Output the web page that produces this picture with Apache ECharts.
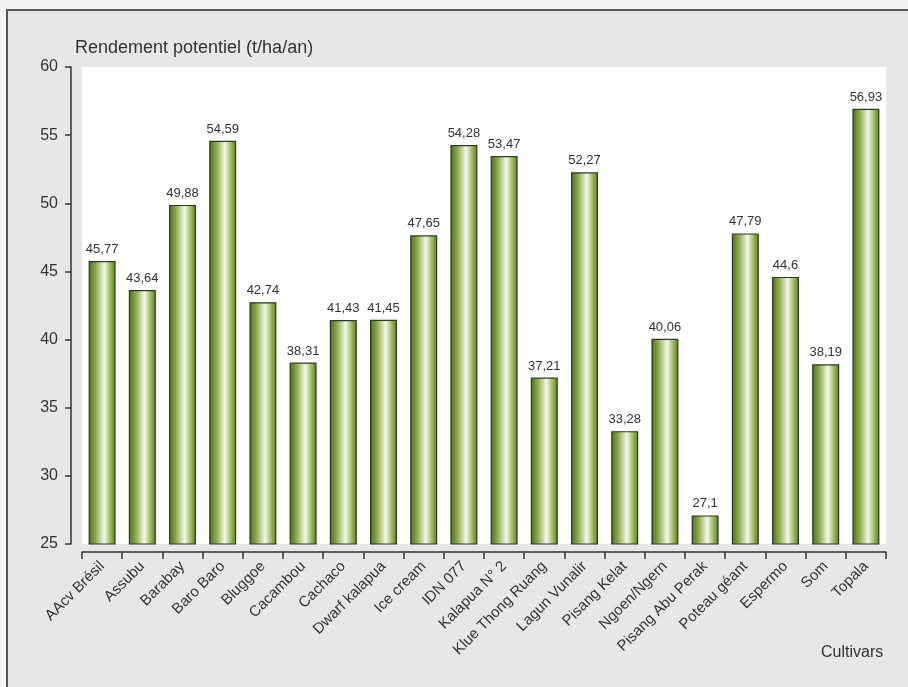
<!DOCTYPE html>
<html>
<head>
    <meta charset="utf-8">
    <script src="https://cdn.jsdelivr.net/npm/echarts@6/dist/echarts.min.js"></script>
    <style>
        html, body { margin: 0; padding: 0; background: #f4f4f4; }
    </style>
</head>
<body>
    <div id="main" style="width: 908px;height:687px;"></div>
    <script type="text/javascript">
        // cultivars et rendement potentiel (t/ha/an)
        var cultivars = ['AAcv Brésil', 'Assubu', 'Barabay', 'Baro Baro', 'Bluggoe', 'Cacambou',
            'Cachaco', 'Dwarf kalapua', 'Ice cream', 'IDN 077', 'Kalapua N° 2', 'Klue Thong Ruang',
            'Lagun Vunalir', 'Pisang Kelat', 'Ngoen/Ngern', 'Pisang Abu Perak', 'Poteau géant',
            'Espermo', 'Som', 'Topala'];
        var rendement = [45.77, 43.64, 49.88, 54.59, 42.74, 38.31, 41.43, 41.45, 47.65, 54.28,
            53.47, 37.21, 52.27, 33.28, 40.06, 27.1, 47.79, 44.6, 38.19, 56.93];

        var barColor = new echarts.graphic.LinearGradient(0, 0, 1, 0, [
            {offset: 0, color: '#4f6e1a'},
            {offset: 0.25, color: '#88a845'},
            {offset: 0.58, color: '#f5f8ec'},
            {offset: 0.82, color: '#97b852'},
            {offset: 1, color: '#587a1f'}
        ]);

        var option = {
            backgroundColor: '#f4f4f4',
            animation: false,
            graphic: [
                {
                    type: 'rect',
                    z: -10,
                    shape: {x: 7, y: 10, width: 920, height: 700},
                    style: {fill: '#e7e7e7', stroke: '#555', lineWidth: 2}
                },
                {
                    type: 'text',
                    left: 821,
                    top: 645,
                    style: {text: 'Cultivars', font: '16px "Liberation Sans", Arial', fill: '#333'}
                }
            ],
            grid: {
                show: true,
                left: 82,
                right: 22,
                top: 67,
                bottom: 143,
                backgroundColor: '#ffffff',
                borderWidth: 0
            },
            xAxis: {
                type: 'category',
                data: cultivars,
                offset: 8,
                axisLine: {lineStyle: {color: '#333', width: 1.5}},
                axisTick: {show: true, interval: 0, length: 7, lineStyle: {color: '#333', width: 1.5}},
                axisLabel: {
                    rotate: 45,
                    interval: 0,
                    margin: 12,
                    color: '#333',
                    fontSize: 15,
                    fontFamily: '"Liberation Sans", Arial'
                },
                splitLine: {show: false}
            },
            yAxis: {
                type: 'value',
                min: 25,
                max: 60,
                interval: 5,
                offset: 11,
                name: 'Rendement potentiel (t/ha/an)',
                nameLocation: 'end',
                nameGap: 10,
                nameTextStyle: {
                    align: 'left',
                    padding: [0, 0, 0, 4],
                    color: '#333',
                    fontSize: 18,
                    fontFamily: '"Liberation Sans", Arial'
                },
                axisLine: {show: true, lineStyle: {color: '#333', width: 1.5}},
                axisTick: {show: true, length: 6, lineStyle: {color: '#333', width: 1.5}},
                axisLabel: {
                    color: '#333',
                    fontSize: 16,
                    margin: 13,
                    fontFamily: '"Liberation Sans", Arial'
                },
                splitLine: {show: false}
            },
            series: [
                {
                    name: 'Rendement',
                    type: 'bar',
                    data: rendement,
                    barWidth: 27,
                    itemStyle: {
                        color: barColor,
                        borderColor: '#2b3a2b',
                        borderWidth: 1.2
                    },
                    label: {
                        show: true,
                        position: 'top',
                        distance: 5,
                        color: '#333',
                        fontSize: 13,
                        fontFamily: '"Liberation Sans", Arial',
                        formatter: function (p) {
                            return String(p.value).replace('.', ',');
                        }
                    }
                }
            ]
        };

        var myChart = echarts.init(document.getElementById('main'));
        myChart.setOption(option);
    </script>
</body>
</html>
